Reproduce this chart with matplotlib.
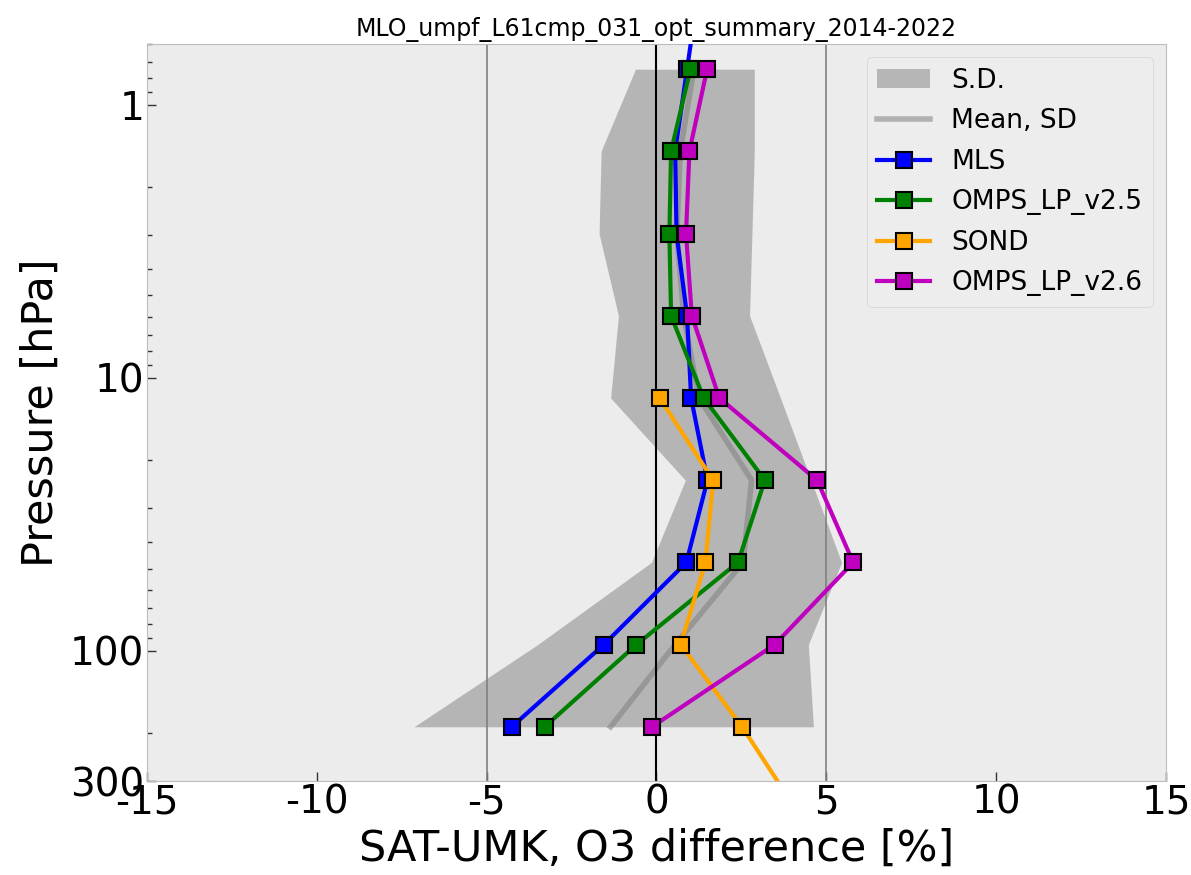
import matplotlib
matplotlib.use('Agg')
import matplotlib.pyplot as plt
import numpy as np
from matplotlib.ticker import FixedLocator, FixedFormatter, LogLocator, NullFormatter

plt.style.use('bmh')
plt.rcParams['axes.unicode_minus'] = False

# Umkehr layer pressures [hPa]
pres = [0.371, 0.742, 1.48, 2.97, 5.93, 11.87, 23.74, 47.48, 94.97, 189.9, 379.9]
nan = np.nan
mls = [1.25, 0.9, 0.55, 0.59, 0.9, 1.02, 1.5, 0.88, -1.55, -4.26, nan]
omps25 = [nan, 1.0, 0.43, 0.38, 0.43, 1.39, 3.19, 2.40, -0.59, -3.29, nan]
sond = [nan, nan, nan, nan, nan, 0.09, 1.67, 1.44, 0.71, 2.52, 4.1]
omps26 = [nan, 1.49, 0.97, 0.87, 1.04, 1.85, 4.73, 5.79, 3.48, -0.13, nan]

# mean and spread (levels 0.742 .. 189.9)
pres_sd = pres[1:10]
mean_sd = [1.1, 0.7, 0.6, 0.8, 1.25, 2.8, 2.55, 0.55, -1.35]
sd_low = [-0.62, -1.63, -1.69, -1.12, -1.35, 0.85, -0.15, -3.5, -7.14]
sd_high = [2.88, 2.88, 2.81, 2.74, 3.65, 4.55, 5.45, 4.47, 4.62]

series = [('MLS', mls, 'b'), ('OMPS_LP_v2.5', omps25, 'g'),
          ('SOND', sond, 'orange'), ('OMPS_LP_v2.6', omps26, 'm')]

fig = plt.figure(figsize=(11.91, 8.75), dpi=100)
ax = fig.add_axes([0.1234, 0.1074, 0.8556, 0.8423])
ax.set_facecolor('#ececec')
ax.grid(False)

ax.fill_betweenx(pres_sd, sd_low, sd_high, color='gray', alpha=0.5, lw=0,
                 label='S.D.', zorder=1)
ax.plot(mean_sd, pres_sd, color='gray', alpha=0.55, lw=4, label='Mean, SD', zorder=2)

ax.axvline(0, color='k', lw=1.5, zorder=2)
ax.axvline(-5, color='gray', lw=1.2, zorder=2)
ax.axvline(5, color='gray', lw=1.2, zorder=2)

for name, vals, c in series:
    ax.plot(vals, pres, '-s', color=c, lw=3, ms=12, mec='k', mew=1.5,
            label=name, zorder=3)

ax.set_yscale('log')
ax.set_ylim(300, 0.6)
ax.set_xlim(-15, 15)
ax.yaxis.set_major_locator(FixedLocator([1, 10, 100, 300]))
ax.yaxis.set_major_formatter(FixedFormatter(['1', '10', '100', '300']))
ax.yaxis.set_minor_locator(LogLocator(base=10, subs=np.arange(2, 10)))
ax.yaxis.set_minor_formatter(NullFormatter())
ax.set_xticks(np.arange(-15, 16, 5))
ax.tick_params(axis='both', which='major', labelsize=28, length=6.5, width=1,
               direction='in', color='#333333', pad=2)
ax.tick_params(axis='y', which='minor', length=3.6, width=1, direction='in',
               color='#333333')
ax.tick_params(axis='x', which='minor', length=0)
for s in ax.spines.values():
    s.set_color('#bcbcbc')

ax.set_xlabel('SAT-UMK, O3 difference [%]', fontsize=31, labelpad=4)
ax.set_ylabel('Pressure [hPa]', fontsize=31, labelpad=6)
ax.set_title('MLO_umpf_L61cmp_031_opt_summary_2014-2022', fontsize=17, pad=6)
ax.legend(loc='upper right', fontsize=19, labelspacing=0.55)

fig.savefig('out.png', dpi=100)
